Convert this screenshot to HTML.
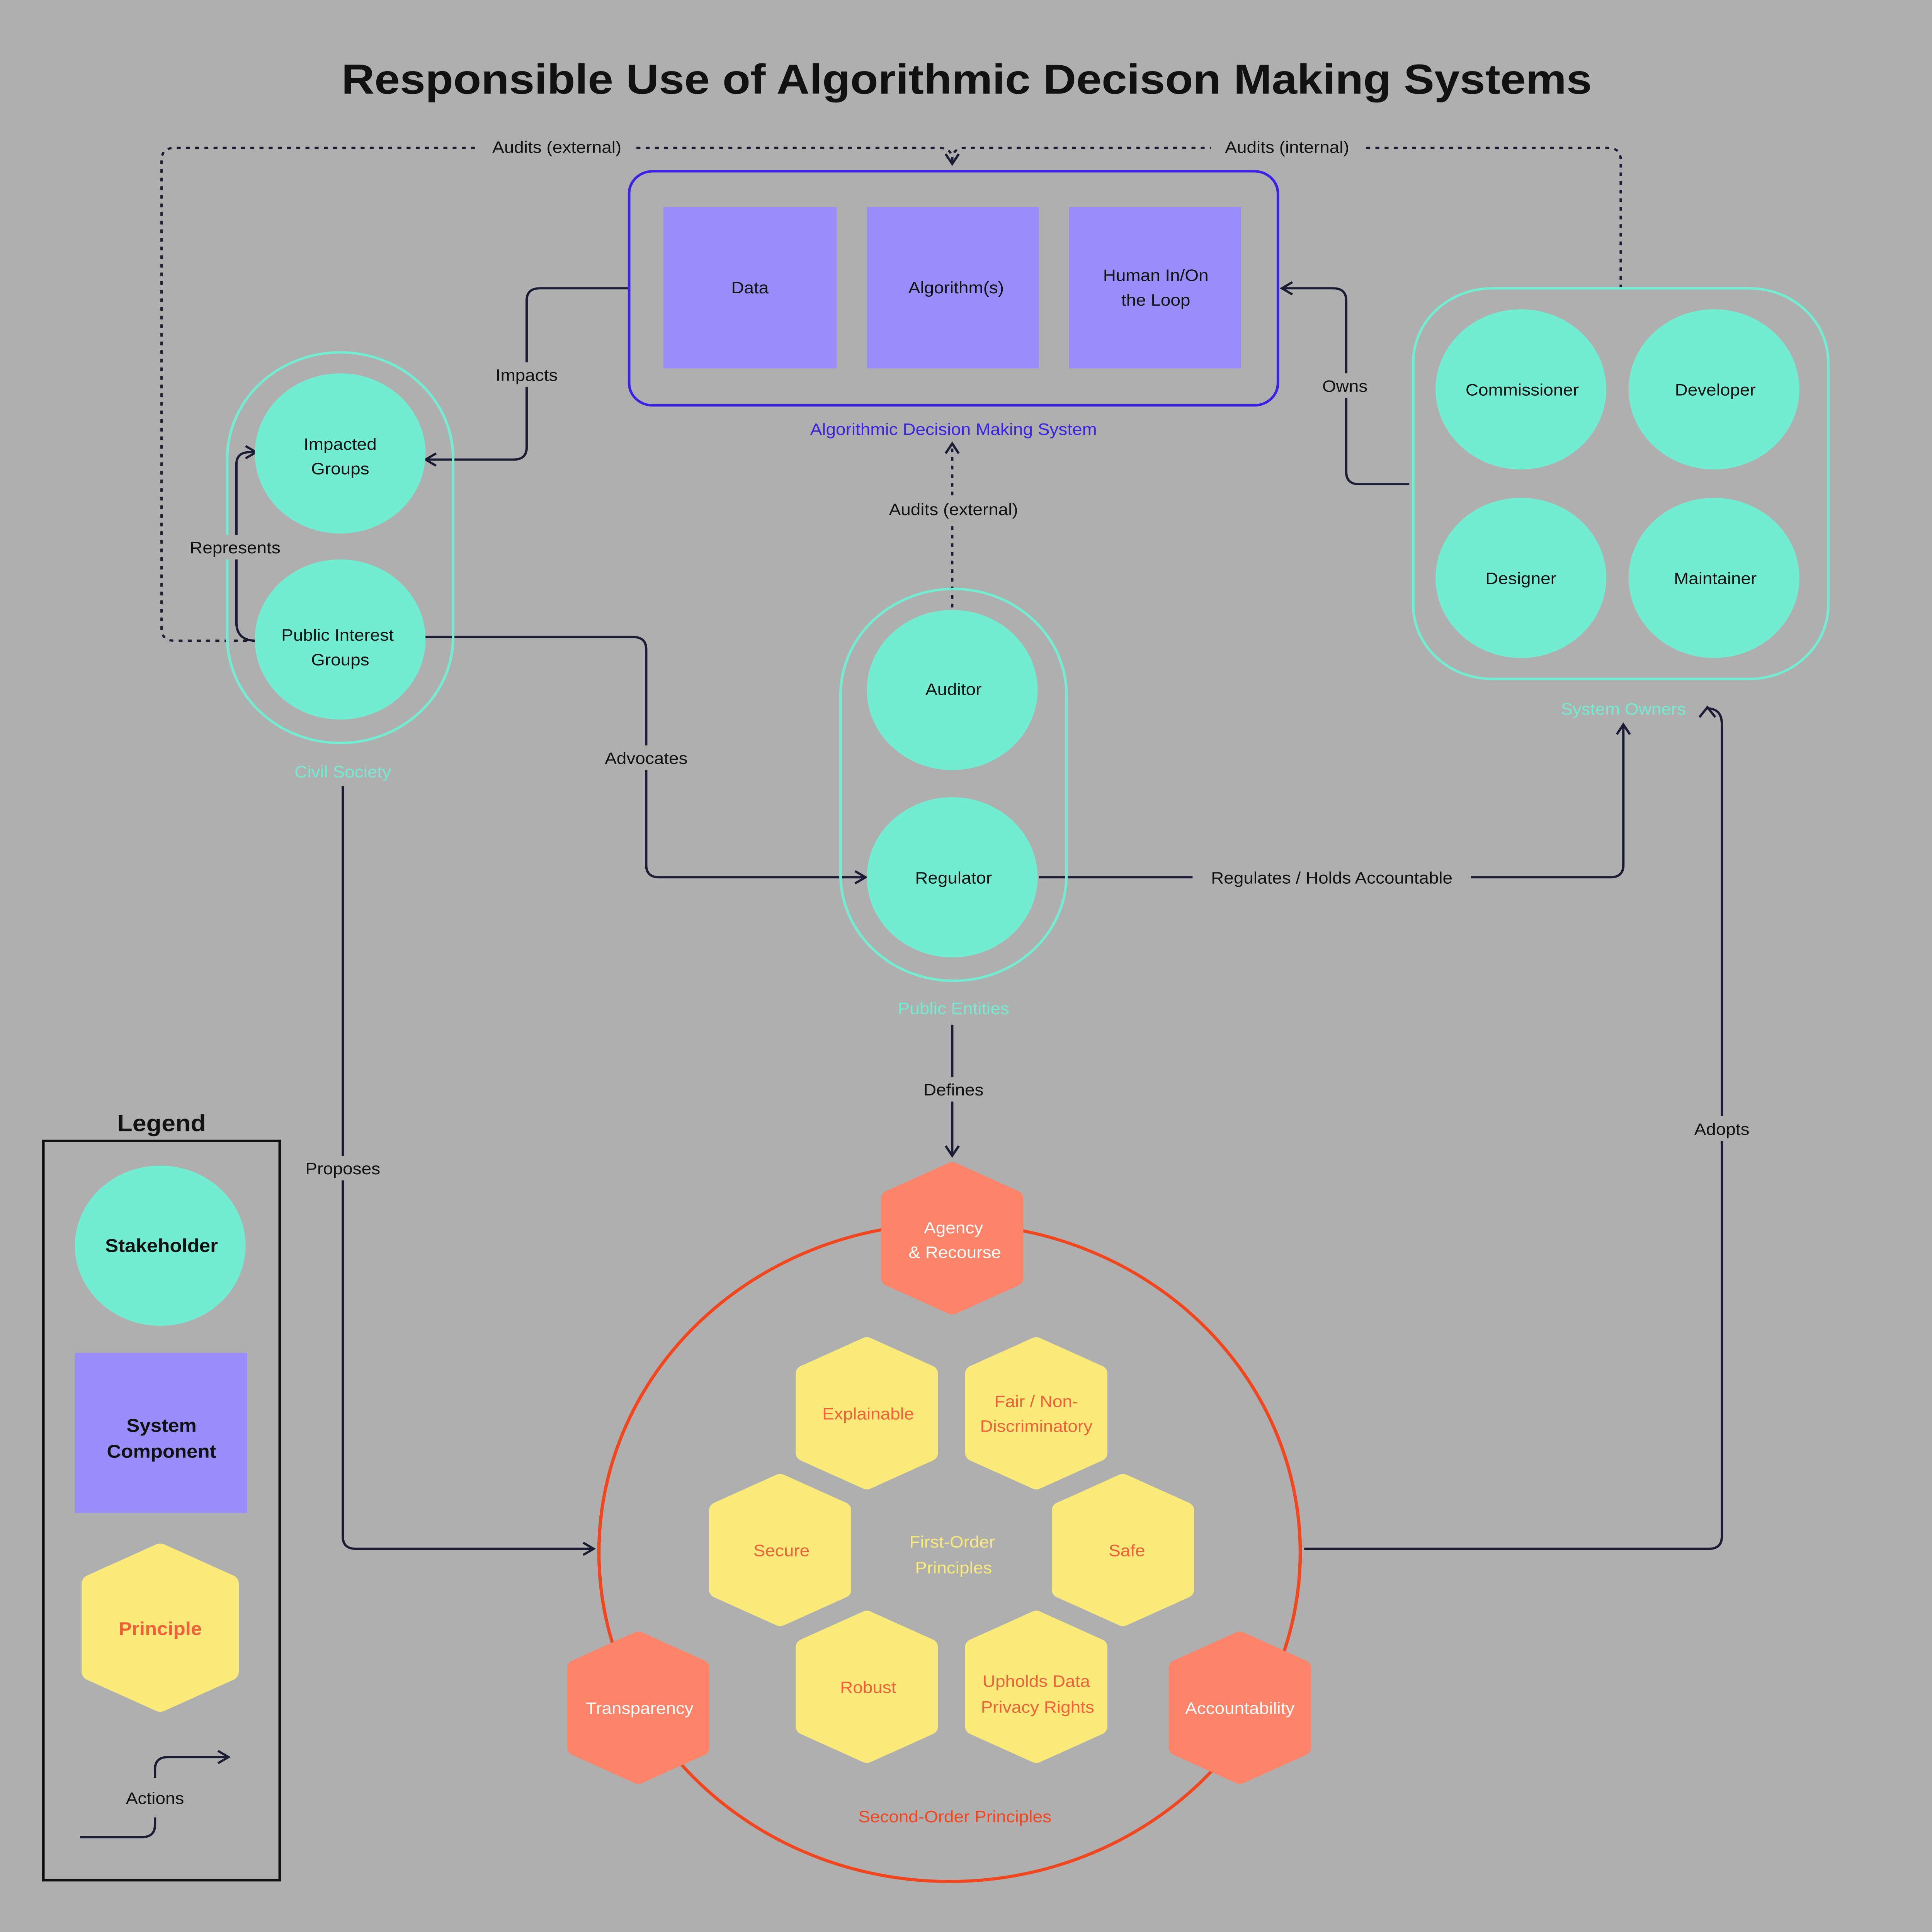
<!DOCTYPE html>
<html><head><meta charset="utf-8"><style>
html,body{margin:0;padding:0;background:#afafaf;overflow:hidden;width:100vw;height:100vh;}
svg{display:block;position:absolute;left:0;top:0;width:100vw;height:100vh;}
text{font-family:"Liberation Sans",sans-serif;}
</style></head><body>
<svg viewBox="0 0 1471 1568" preserveAspectRatio="none" xmlns="http://www.w3.org/2000/svg">
<defs>
<marker id="ar" viewBox="0 0 12 12" refX="10" refY="6" markerWidth="12" markerHeight="12" markerUnits="userSpaceOnUse" orient="auto">
<path d="M2,1 L10,6 L2,11" fill="none" stroke="#1c1c35" stroke-width="1.8"/></marker>
<symbol id="hx" viewBox="-60 -66 120 132" overflow="visible">
<path d="M0,-58 L50,-34 L50,34 L0,58 L-50,34 L-50,-34 Z" stroke-linejoin="round" stroke-width="14"/>
</symbol>
</defs>
<rect width="1471" height="1568" fill="#afafaf"/>
<text x="736" y="76" text-anchor="middle" font-size="34" font-weight="bold" fill="#111" textLength="952" lengthAdjust="spacingAndGlyphs">Responsible Use of Algorithmic Decison Making Systems</text>

<g fill="none" stroke="#1c1c35" stroke-width="1.8">
<path d="M195,520 H133 Q123,520 123,510 V130 Q123,120 133,120 H715 Q725,120 725,130 V133" stroke-dasharray="3,4" marker-end="url(#ar)"/>
<path d="M1234,234 V130 Q1234,120 1224,120 H735 Q725,120 725,130" stroke-dasharray="3,4"/>
<path d="M725,493 V360" stroke-dasharray="3,4" marker-end="url(#ar)"/>
<path d="M479,234 H411 Q401,234 401,244 V363 Q401,373 391,373 H324" marker-end="url(#ar)"/>
<path d="M1073,393 H1035 Q1025,393 1025,383 V244 Q1025,234 1015,234 H976" marker-end="url(#ar)"/>
<path d="M195,520 Q180,520 180,505 V377 Q180,367 190,367 H195" marker-end="url(#ar)"/>
<path d="M323,517 H482 Q492,517 492,527 V702 Q492,712 502,712 H659" marker-end="url(#ar)"/>
<path d="M791,712 H1226 Q1236,712 1236,702 V588" marker-end="url(#ar)"/>
<path d="M725,832 V938" marker-end="url(#ar)"/>
<path d="M261,638 V1247 Q261,1257 271,1257 H452" marker-end="url(#ar)"/>
<path d="M993,1257 H1301 Q1311,1257 1311,1247 V588 Q1311,575 1300,575" />
<path d="M1294,582 L1300,574 L1306,582"/>
</g>

<rect x="173" y="286" width="172" height="317" rx="86" fill="none" stroke="#72edd2" stroke-width="2"/>
<rect x="640" y="478" width="172" height="318" rx="86" fill="none" stroke="#72edd2" stroke-width="2"/>
<rect x="1076" y="234" width="316" height="317" rx="60" fill="none" stroke="#72edd2" stroke-width="2"/>
<rect x="479" y="139" width="494" height="190" rx="18" fill="none" stroke="#3b22e6" stroke-width="2"/>

<g fill="#9a8cf9">
<rect x="505" y="168" width="132" height="131"/>
<rect x="660" y="168" width="131" height="131"/>
<rect x="814" y="168" width="131" height="131"/>
<rect x="57" y="1098" width="131" height="130"/>
</g>
<g fill="#72edd2">
<circle cx="259" cy="368" r="65"/><circle cx="259" cy="519" r="65"/>
<circle cx="725" cy="560" r="65"/><circle cx="725" cy="712" r="65"/>
<circle cx="1158" cy="316" r="65"/><circle cx="1305" cy="316" r="65"/>
<circle cx="1158" cy="469" r="65"/><circle cx="1305" cy="469" r="65"/>
<circle cx="122" cy="1011" r="65"/>
</g>

<circle cx="723" cy="1260" r="267" fill="none" stroke="#f2461f" stroke-width="2.5"/>

<g fill="#f9ea7a" stroke="#f9ea7a">
<use href="#hx" x="603" y="1083" width="114" height="128"/>
<use href="#hx" x="732" y="1083" width="114" height="128"/>
<use href="#hx" x="537" y="1194" width="114" height="128"/>
<use href="#hx" x="798" y="1194" width="114" height="128"/>
<use href="#hx" x="603" y="1305" width="114" height="128"/>
<use href="#hx" x="732" y="1305" width="114" height="128"/>
<use href="#hx" x="59" y="1251" width="126" height="140"/>
</g>
<g fill="#fd8468" stroke="#fd8468">
<use href="#hx" x="668" y="941" width="114" height="128"/>
<use href="#hx" x="429" y="1322" width="114" height="128"/>
<use href="#hx" x="887" y="1322" width="114" height="128"/>
</g>

<text x="123" y="918" text-anchor="middle" font-size="19" font-weight="bold" fill="#111">Legend</text>
<rect x="33" y="926" width="180" height="600" fill="none" stroke="#111" stroke-width="2"/>
<path d="M61,1491 H108 Q118,1491 118,1481 V1475" fill="none" stroke="#1c1c35" stroke-width="1.8"/>
<path d="M118,1443 V1436 Q118,1426 128,1426 H174" fill="none" stroke="#1c1c35" stroke-width="1.8" marker-end="url(#ar)"/>

<g font-size="13.5" fill="#111" text-anchor="middle">
<rect x="365" y="110" width="118" height="18" fill="#afafaf"/>
<text x="424" y="124">Audits (external)</text>
<rect x="922" y="110" width="116" height="18" fill="#afafaf"/>
<text x="980" y="124">Audits (internal)</text>
<rect x="370" y="294" width="62" height="20" fill="#afafaf"/>
<text x="401" y="309">Impacts</text>
<rect x="1002" y="303" width="46" height="20" fill="#afafaf"/>
<text x="1024" y="318">Owns</text>
<rect x="138" y="434" width="82" height="20" fill="#afafaf"/>
<text x="179" y="449">Represents</text>
<rect x="454" y="605" width="76" height="20" fill="#afafaf"/>
<text x="492" y="620">Advocates</text>
<rect x="668" y="403" width="116" height="20" fill="#afafaf"/>
<text x="726" y="418">Audits (external)</text>
<rect x="908" y="702" width="212" height="20" fill="#afafaf"/>
<text x="1014" y="717">Regulates / Holds Accountable</text>
<rect x="696" y="874" width="60" height="20" fill="#afafaf"/>
<text x="726" y="889">Defines</text>
<rect x="226" y="938" width="70" height="20" fill="#afafaf"/>
<text x="261" y="953">Proposes</text>
<rect x="1284" y="906" width="56" height="20" fill="#afafaf"/>
<text x="1311" y="921">Adopts</text>
<text x="118" y="1464">Actions</text>

<text x="571" y="238">Data</text>
<text x="728" y="238">Algorithm(s)</text>
<text x="880" y="228">Human In/On</text><text x="880" y="248">the Loop</text>
<text x="259" y="365">Impacted</text><text x="259" y="385">Groups</text>
<text x="257" y="520">Public Interest</text><text x="259" y="540">Groups</text>
<text x="726" y="564">Auditor</text>
<text x="726" y="717">Regulator</text>
<text x="1159" y="321">Commissioner</text>
<text x="1306" y="321">Developer</text>
<text x="1158" y="474">Designer</text>
<text x="1306" y="474">Maintainer</text>
</g>
<g font-size="13.5" text-anchor="middle">
<text x="726" y="353" fill="#3b22e6">Algorithmic Decision Making System</text>
<text x="261" y="631" fill="#72edd2">Civil Society</text>
<text x="726" y="823" fill="#72edd2">Public Entities</text>
<text x="1236" y="580" fill="#72edd2">System Owners</text>
<text x="727" y="1479" fill="#f2461f">Second-Order Principles</text>
<text x="725" y="1256" fill="#f9ea7a">First-Order</text><text x="726" y="1277" fill="#f9ea7a">Principles</text>
</g>
<g font-size="13.5" text-anchor="middle" fill="#f1603a">
<text x="661" y="1152">Explainable</text>
<text x="789" y="1142">Fair / Non-</text><text x="789" y="1162">Discriminatory</text>
<text x="595" y="1263">Secure</text>
<text x="858" y="1263">Safe</text>
<text x="661" y="1374">Robust</text>
<text x="789" y="1369">Upholds Data</text><text x="790" y="1390">Privacy Rights</text>
</g>
<g font-size="13.5" text-anchor="middle" fill="#fff">
<text x="726" y="1001">Agency</text><text x="727" y="1021">&amp; Recourse</text>
<text x="487" y="1391">Transparency</text>
<text x="944" y="1391">Accountability</text>
</g>
<g font-size="15" font-weight="bold" text-anchor="middle" fill="#111">
<text x="123" y="1016">Stakeholder</text>
<text x="123" y="1162">System</text><text x="123" y="1183">Component</text>
</g>
<text x="122" y="1327" font-size="15" font-weight="bold" text-anchor="middle" fill="#f1603a">Principle</text>
</svg>
</body></html>
